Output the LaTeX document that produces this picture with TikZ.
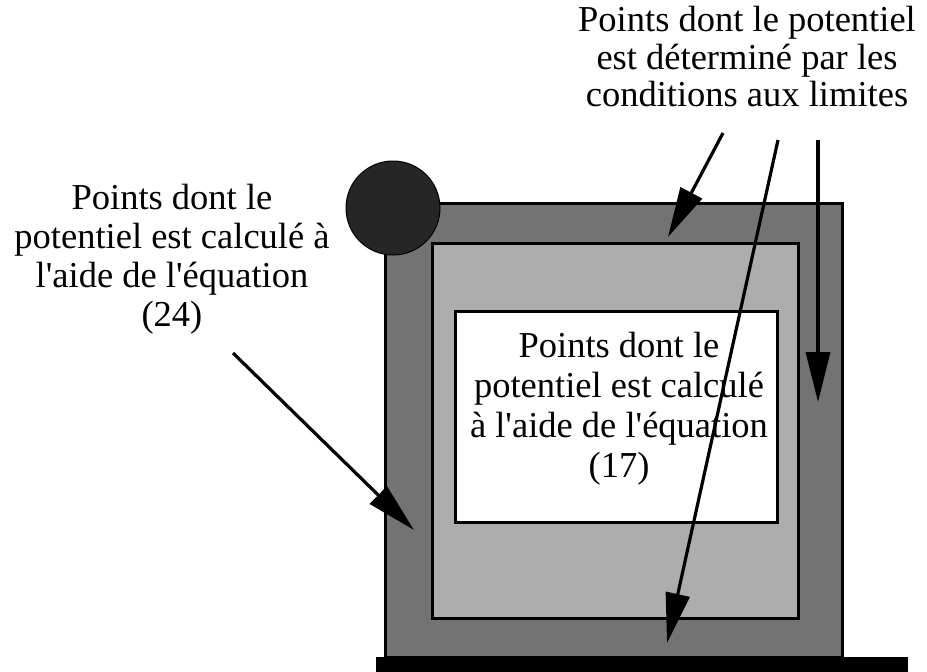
\documentclass[tikz,border=0pt]{standalone}
\usepackage{fontspec}
\setmainfont{Liberation Serif}
\usetikzlibrary{arrows.meta}
\begin{document}
\begin{tikzpicture}[x=1pt,y=-1pt,
  lbl/.style={align=center,font=\fontsize{36.5}{#1}\selectfont,inner sep=0pt},
  ptr/.style={line width=3.2pt,-{Triangle[length=50pt,width=24pt]}},
  frame/.style={draw=black,line width=3pt,inner sep=0pt,outer sep=0pt}]
\useasboundingbox (0,0) rectangle (927,672);
% outer ring
\node[frame,fill=black!55,minimum width=457pt,minimum height=454pt] (outer) at (613.5,430) {};
% middle ring
\node[frame,fill=black!32,minimum width=366pt,minimum height=375pt] (middle) at (615,430.5) {};
% white box
\node[frame,fill=white,minimum width=322pt,minimum height=211pt] (inner) at (616,416.5) {};
% circle
\node[circle,fill=black!85,draw=black,line width=1pt,minimum size=94pt,inner sep=0pt] (disc) at (393,208) {};
% bottom bar
\node[fill=black,minimum width=532pt,minimum height=15pt,inner sep=0pt] (bar) at (642,664.5) {};
% texts
\node[lbl=37.5pt] (toptext) at (747,57) {Points dont le potentiel\\est déterminé par les\\conditions aux limites};
\node[lbl=39pt] (lefttext) at (172,259.5) {Points dont le\\potentiel est calculé à\\l\textquotesingle aide de l\textquotesingle équation\\(24)};
\node[lbl=40pt] (intext) at (619,409) {Points dont le\\potentiel est calculé\\à l\textquotesingle aide de l\textquotesingle équation\\(17)};
% arrow ends
\coordinate (s1) at (723,133);
\coordinate (t1) at (668,237);
\coordinate (s2) at (778,140);
\coordinate (t2) at (667,643);
\coordinate (s3) at (818,140);
\coordinate (t3) at (818,402);
\coordinate (s4) at (233,353);
\coordinate (t4) at (414,530);
\draw[ptr] (s1) -- (t1);
\draw[ptr] (s2) -- (t2);
\draw[ptr] (s3) -- (t3);
\draw[ptr] (s4) -- (t4);
\end{tikzpicture}
\end{document}
